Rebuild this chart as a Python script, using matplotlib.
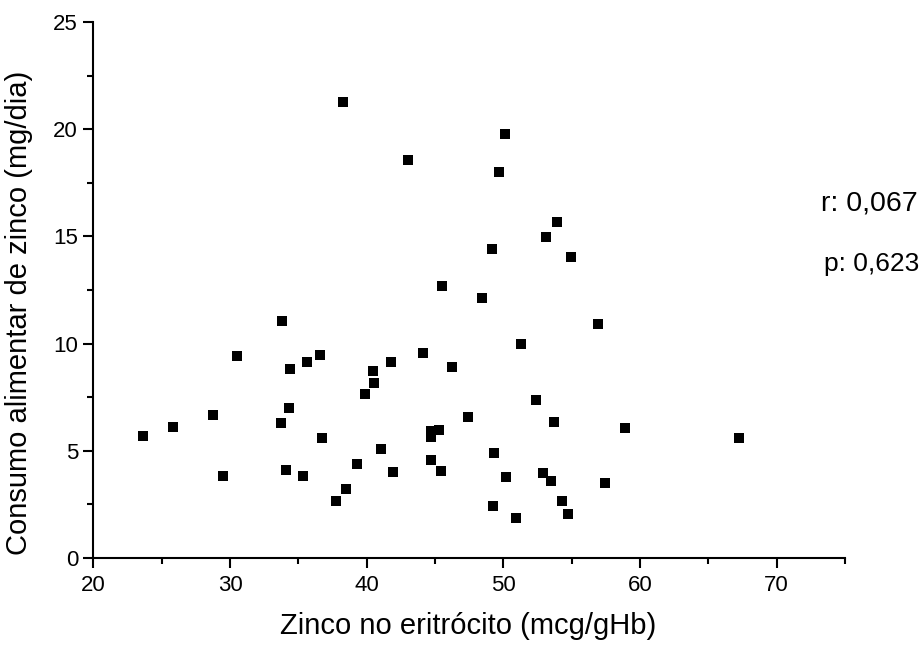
import matplotlib
matplotlib.use("Agg")
import matplotlib.pyplot as plt
from matplotlib.ticker import MultipleLocator

plt.rcParams['font.family'] = ['Liberation Sans', 'DejaVu Sans']

# zinco no eritrocito (mcg/gHb) vs consumo alimentar de zinco (mg/dia)
zinco_eritrocito = [23.65, 25.85, 28.76, 29.5, 30.54, 33.8, 33.73, 34.29, 34.41, 34.07,
                    35.36, 35.61, 36.56, 36.73, 37.75, 38.47, 39.27, 39.88, 40.46, 40.53,
                    41.05, 41.78, 41.92, 44.12, 44.70, 44.70, 44.70, 45.29, 45.46, 46.27,
                    47.41, 49.22, 49.34, 50.19, 50.92, 51.29, 52.36, 52.90, 53.51, 53.70,
                    54.26, 54.75, 56.90, 57.46, 58.90, 45.53, 48.46, 67.26, 50.10, 43.04,
                    49.66, 53.94, 53.12, 49.14, 54.92, 38.29]
consumo_zinco = [5.68, 6.10, 6.66, 3.80, 9.43, 11.05, 6.30, 6.97, 8.79, 4.11,
                 3.83, 9.15, 9.45, 5.59, 2.63, 3.21, 4.39, 7.64, 8.70, 8.16,
                 5.09, 9.15, 3.99, 9.56, 4.55, 5.63, 5.91, 5.98, 4.03, 8.89,
                 6.57, 2.43, 4.89, 3.75, 1.84, 9.99, 7.38, 3.94, 3.58, 6.35,
                 2.63, 2.04, 10.92, 3.49, 6.07, 12.67, 12.11, 5.59, 19.78, 18.58,
                 17.99, 15.67, 14.99, 14.41, 14.02, 21.29]

r_txt = "r: 0,067"
p_txt = "p: 0,623"

fig = plt.figure(figsize=(9.23, 6.46), dpi=100)
ax = fig.add_axes([0.1011, 0.1367, 0.8144, 0.8288])

ax.scatter(zinco_eritrocito, consumo_zinco, marker='s', s=48, color='black',
           linewidths=0, zorder=3)

ax.set_xlim(20, 75)
ax.set_ylim(0, 25)
ax.xaxis.set_major_locator(MultipleLocator(10))
ax.xaxis.set_minor_locator(MultipleLocator(5))
ax.yaxis.set_major_locator(MultipleLocator(5))
ax.yaxis.set_minor_locator(MultipleLocator(2.5))

for s in ['top', 'right']:
    ax.spines[s].set_visible(False)
for s in ['left', 'bottom']:
    ax.spines[s].set_linewidth(1.5)
ax.tick_params(which='major', direction='out', length=7.5, width=1.5, labelsize=16)
ax.tick_params(axis='x', which='major', pad=5)
ax.tick_params(axis='y', which='major', pad=3.5)
ax.tick_params(which='minor', direction='out', length=4, width=1.5)

ax.set_xlabel("Zinco no eritrócito (mcg/gHb)", fontsize=21)
ax.set_ylabel("Consumo alimentar de zinco (mg/dia)", fontsize=21)
ax.xaxis.set_label_coords(0.498, -0.102)
ax.yaxis.set_label_coords(-0.08, 0.457)

fig.text(918/923, 1 - 210/646, r_txt, ha='right', va='baseline', fontsize=20.5)
fig.text(919/923, 1 - 271/646, p_txt, ha='right', va='baseline', fontsize=19)

fig.savefig("out.png", dpi=100)
